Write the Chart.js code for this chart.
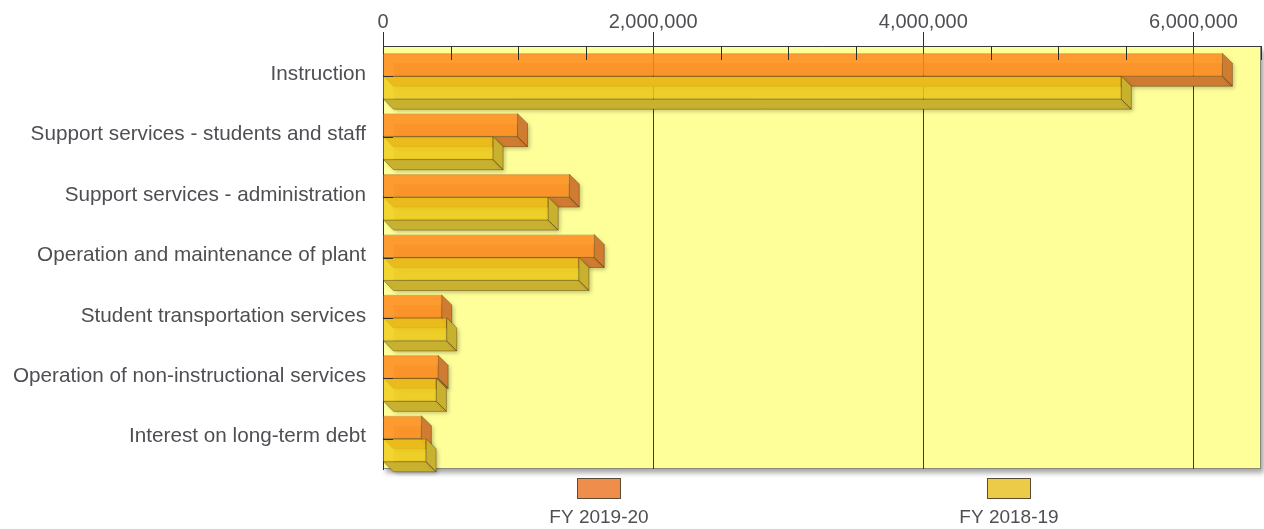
<!DOCTYPE html>
<html>
<head>
<meta charset="utf-8">
<title>Expenses by function</title>
<script src="https://cdn.jsdelivr.net/npm/chart.js@4/dist/chart.umd.min.js"></script>
<style>
  html, body { margin: 0; padding: 0; background: #ffffff; }
  #wrap { width: 1264px; height: 529px; position: relative; }
</style>
</head>
<body>
<div id="wrap"><canvas id="c" width="1264" height="529"></canvas></div>
<script>
// ---- data ----
const categories = [
  'Instruction',
  'Support services - students and staff',
  'Support services - administration',
  'Operation and maintenance of plant',
  'Student transportation services',
  'Operation of non-instructional services',
  'Interest on long-term debt'
];
const seriesNames = ['FY 2019-20', 'FY 2018-19'];
const fy2019_20 = [6214000, 996000, 1379000, 1564000, 435000, 408000, 284000];
const fy2018_19 = [5466000, 815000, 1223000, 1450000, 472000, 395000, 319000];
const axisMax = 6500000;
const tickStep = 500000;
const labelStep = 2000000;

// ---- styling ----
const FONT = "'Liberation Sans', Arial, sans-serif";
const TEXT = '#4d4f53';
const PLOT_BG = '#FFFF99';
const frontColors = ['rgba(253,138,30,0.86)', 'rgba(240,203,22,0.8)'];
const depthColors = ['rgb(207,124,50)', 'rgb(201,177,48)'];
const legendColors = ['#EF8D4C', '#ECCB48'];
const DEPTH = 10;

function poly(ctx, pts) {
  ctx.beginPath();
  ctx.moveTo(pts[0][0], pts[0][1]);
  for (let i = 1; i < pts.length; i++) ctx.lineTo(pts[i][0], pts[i][1]);
  ctx.closePath();
}

// Plot background with drop shadow, 3D extrusion of bars, ticks and legend
const box3d = {
  id: 'box3d',
  beforeDraw(chart) {
    const { ctx, chartArea: a } = chart;
    ctx.save();
    ctx.shadowColor = 'rgba(0,0,0,0.35)';
    ctx.shadowBlur = 5;
    ctx.shadowOffsetX = 3;
    ctx.shadowOffsetY = 4;
    ctx.fillStyle = PLOT_BG;
    ctx.fillRect(a.left, a.top, a.right - a.left, a.bottom - a.top);
    ctx.restore();
    ctx.save();
    ctx.strokeStyle = '#8a8a7a';
    ctx.lineWidth = 1;
    ctx.strokeRect(a.left + 0.5, a.top + 0.5, a.right - a.left - 1, a.bottom - a.top - 1);
    ctx.restore();
  },
  beforeDatasetsDraw(chart) {
    const ctx = chart.ctx;
    const d = DEPTH;
    ctx.save();
    chart.data.datasets.forEach((ds, di) => {
      const meta = chart.getDatasetMeta(di);
      meta.data.forEach(el => {
        const p = el.getProps(['x', 'y', 'base', 'height'], true);
        const x0 = Math.min(p.base, p.x), x1 = Math.max(p.base, p.x);
        const y0 = p.y - p.height / 2, y1 = p.y + p.height / 2;
        // faint back face seen through the front, with a soft shadow
        ctx.save();
        ctx.shadowColor = 'rgba(0,0,0,0.22)';
        ctx.shadowBlur = 4;
        ctx.shadowOffsetX = 2;
        ctx.shadowOffsetY = 2;
        ctx.globalAlpha = 0.3;
        ctx.fillStyle = depthColors[di];
        ctx.fillRect(x0 + d, y0 + d, x1 - x0, y1 - y0);
        ctx.restore();
        // bottom and side faces
        ctx.save();
        ctx.shadowColor = 'rgba(0,0,0,0.18)';
        ctx.shadowBlur = 4;
        ctx.shadowOffsetX = 2;
        ctx.shadowOffsetY = 2;
        ctx.fillStyle = depthColors[di];
        poly(ctx, [[x0, y1], [x1, y1], [x1 + d, y1 + d], [x0 + d, y1 + d]]);
        ctx.fill();
        poly(ctx, [[x1, y0], [x1 + d, y0 + d], [x1 + d, y1 + d], [x1, y1]]);
        ctx.fill();
        ctx.restore();
        ctx.strokeStyle = 'rgba(60,40,0,0.35)';
        ctx.lineWidth = 1;
        poly(ctx, [[x1, y0], [x1 + d, y0 + d], [x1 + d, y1 + d], [x1, y1]]);
        ctx.stroke();
        poly(ctx, [[x0, y1], [x1, y1], [x1 + d, y1 + d], [x0 + d, y1 + d]]);
        ctx.stroke();
      });
    });
    ctx.restore();
  },
  afterDatasetsDraw(chart) {
    const { ctx, chartArea: a } = chart;
    const xs = chart.scales.x, ys = chart.scales.y;
    ctx.save();
    ctx.strokeStyle = '#2f2f2f';
    ctx.lineWidth = 1;
    // minor ticks hanging inside the top edge
    for (let v = tickStep; v <= axisMax; v += tickStep) {
      if (v % labelStep === 0) continue;
      const px = Math.round(xs.getPixelForValue(v)) + 0.5;
      ctx.beginPath();
      ctx.moveTo(px, a.top);
      ctx.lineTo(px, a.top + 14);
      ctx.stroke();
    }
    // category ticks along the left edge
    categories.forEach((c, i) => {
      const py = Math.round(ys.getPixelForValue(i)) + 0.5;
      ctx.beginPath();
      ctx.moveTo(a.left, py);
      ctx.lineTo(a.left + 10, py);
      ctx.stroke();
    });
    ctx.restore();
  },
  afterDraw(chart) {
    const ctx = chart.ctx;
    const centers = [599, 1009];
    ctx.save();
    seriesNames.forEach((name, i) => {
      const cx = centers[i];
      ctx.fillStyle = legendColors[i];
      ctx.fillRect(cx - 22, 478, 44, 21);
      ctx.strokeStyle = '#5b4b32';
      ctx.lineWidth = 1;
      ctx.strokeRect(cx - 22 + 0.5, 478.5, 43, 20);
      ctx.fillStyle = TEXT;
      ctx.font = '19px ' + FONT;
      ctx.textAlign = 'center';
      ctx.textBaseline = 'alphabetic';
      ctx.fillText(name, cx, 523);
    });
    ctx.restore();
  }
};

new Chart(document.getElementById('c'), {
  type: 'bar',
  data: {
    labels: categories,
    datasets: [
      { label: seriesNames[0], data: fy2019_20, backgroundColor: frontColors[0],
        borderColor: 'rgba(120,60,0,0.3)', borderWidth: 1, barThickness: 23 },
      { label: seriesNames[1], data: fy2018_19, backgroundColor: frontColors[1],
        borderColor: 'rgba(110,80,0,0.3)', borderWidth: 1, barThickness: 23 }
    ]
  },
  options: {
    indexAxis: 'y',
    responsive: false,
    animation: false,
    devicePixelRatio: 1,
    layout: { padding: { left: 0, right: 3, top: 0, bottom: 60 } },
    plugins: { legend: { display: false }, tooltip: { enabled: false } },
    scales: {
      x: {
        position: 'top',
        min: 0,
        max: axisMax,
        z: 1,
        afterFit(s) { s.height = 46; },
        ticks: {
          stepSize: tickStep,
          maxTicksLimit: 30,
          autoSkip: false,
          maxRotation: 0,
          padding: 0,
          color: TEXT,
          font: { family: FONT, size: 20, lineHeight: 1 },
          callback: v => (v % labelStep === 0 ? v.toLocaleString('en-US') : '')
        },
        grid: {
          drawTicks: true,
          tickLength: 14,
          lineWidth: 1,
          color: c => (c.tick && c.tick.value > 0 && c.tick.value % labelStep === 0) ? 'rgba(40,40,40,0.9)' : 'rgba(0,0,0,0)',
          tickColor: c => (c.tick && c.tick.value % labelStep === 0) ? '#2f2f2f' : 'rgba(0,0,0,0)'
        },
        border: { display: true, color: '#3a3a3a', width: 1 }
      },
      y: {
        afterFit(s) { s.width = 383; },
        ticks: {
          padding: 17,
          labelOffset: -2,
          color: TEXT,
          font: { family: FONT, size: 20.7 }
        },
        grid: { display: false, drawTicks: false },
        border: { display: true, color: '#2f2f2f', width: 1 }
      }
    }
  },
  plugins: [box3d]
});
</script>
</body>
</html>
